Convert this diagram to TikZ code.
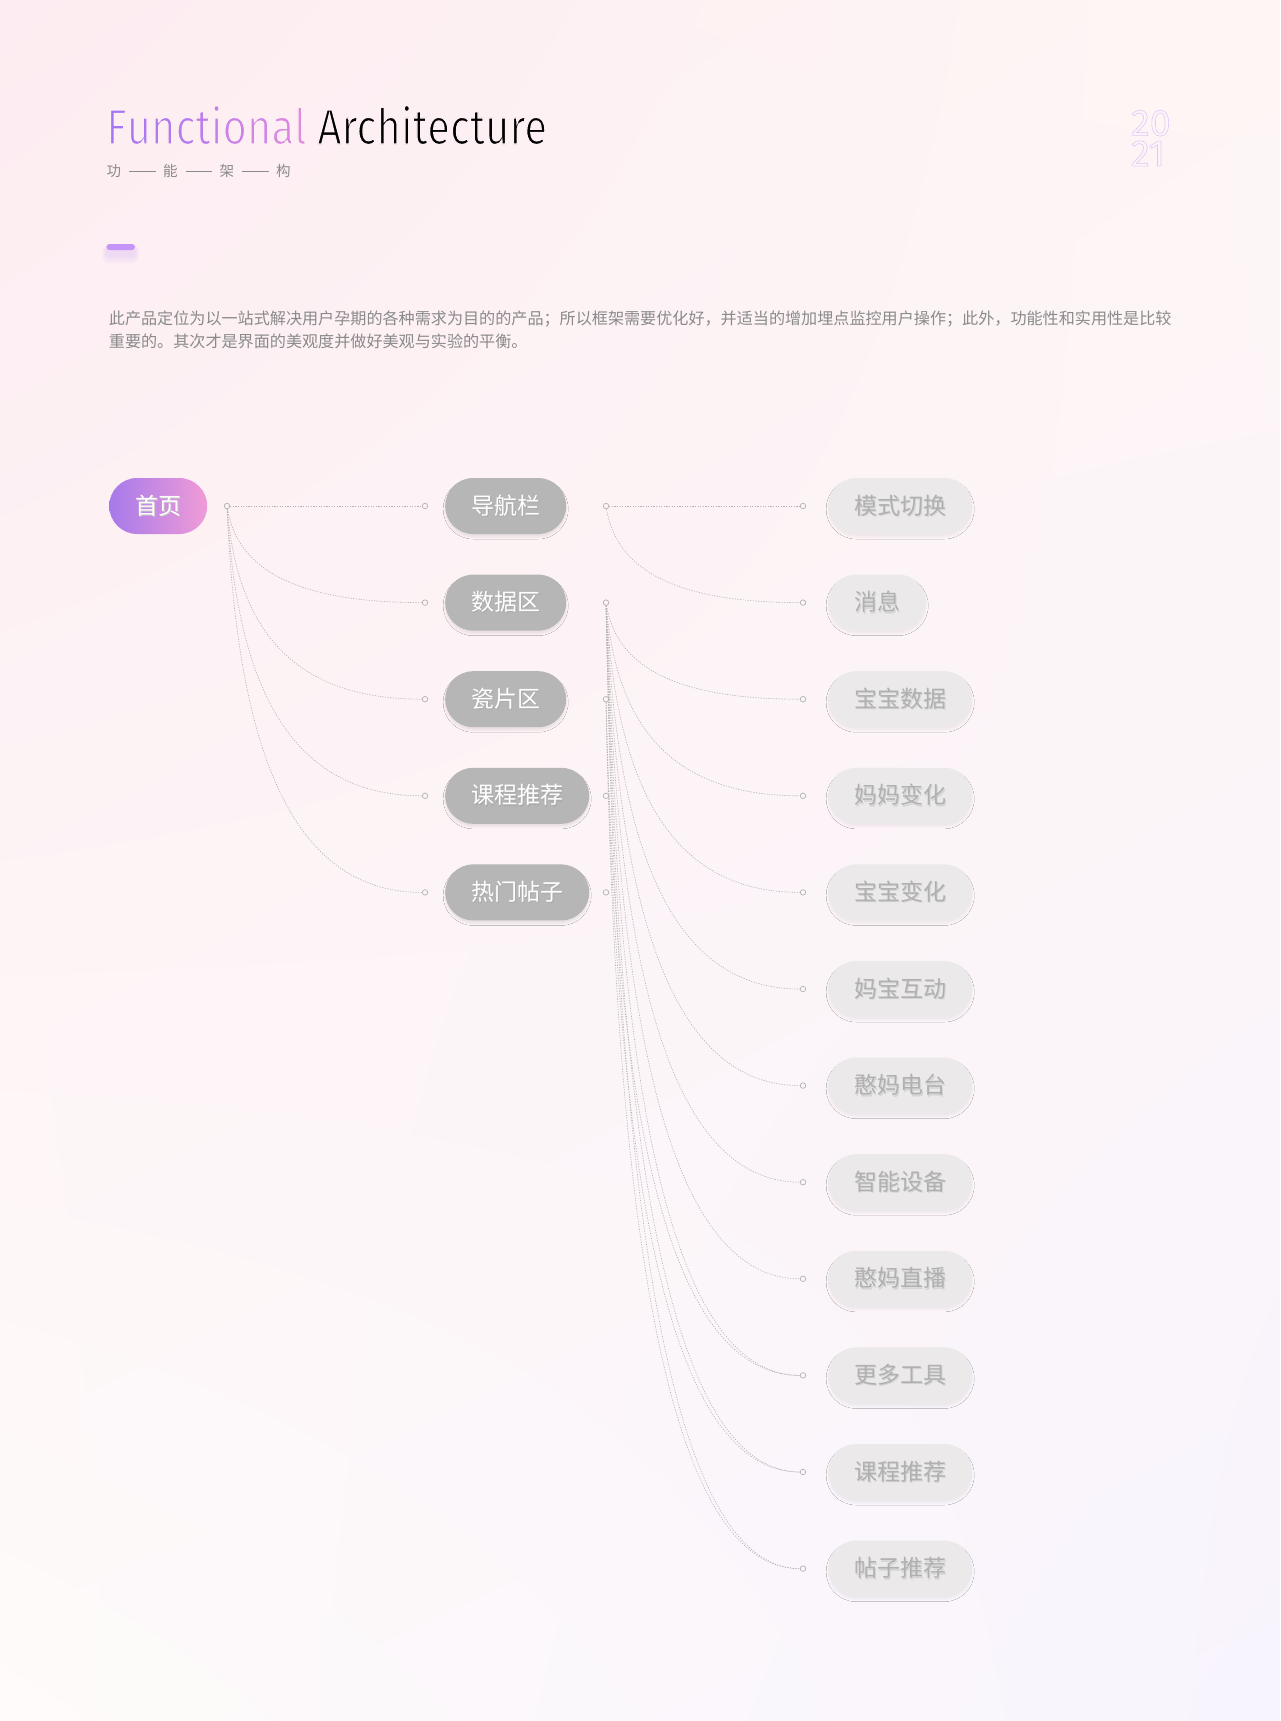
\documentclass[tikz,border=0pt]{standalone}
\usepackage{fontspec}
\setmainfont{Noto Sans CJK SC}
\newfontfamily\thinfont[FakeStretch=0.845]{Fira Sans}
\newfontfamily\digitfont{Fira Sans}
\usetikzlibrary{calc,shadings,shadows.blur}

\definecolor{bgtl}{RGB}{253,236,241}
\definecolor{bgtr}{RGB}{254,246,245}
\definecolor{bgbl}{RGB}{254,251,250}
\definecolor{bgbr}{RGB}{248,244,253}
\definecolor{lilac}{RGB}{166,122,234}
\definecolor{rosy}{RGB}{240,155,215}
\definecolor{fa}{RGB}{165,118,244}
\definecolor{fb}{RGB}{226,138,222}
\definecolor{dashpurple}{RGB}{196,148,248}
\definecolor{digitpurple}{RGB}{222,200,250}
\definecolor{midgray}{RGB}{182,182,182}
\definecolor{palegray}{RGB}{235,233,233}
\definecolor{leafgray}{RGB}{176,176,176}
\definecolor{linkgray}{RGB}{178,178,178}
\definecolor{txtgray}{RGB}{138,138,138}

% text with a soft offset shadow
\newcommand{\shtext}[2]{\makebox[0pt][l]{\kern1pt\raisebox{-1.3pt}{\textcolor{#2}{#1}}}#1}
\newcommand{\outlined}[1]{\special{pdf:literal direct 1 Tr 0.6 w}#1\special{pdf:literal direct 0 Tr}}
% glyphs eaten at the edge by a background stroke
\newcommand{\thinned}[1]{\special{pdf:literal direct 2 Tr 1.3 w 0.992 0.937 0.953 RG}#1\special{pdf:literal direct 0 Tr}}
\newcommand{\gl}[2]{\textcolor{#1}{\thinned{#2}}}
% dotted branch, steep start and flat end
\newcommand{\bend}[2]{\draw[link] let \p1=(#1), \p2=(#2) in (#1) .. controls ({\x1+0.05*(\x2-\x1)},{\y1+0.6*(\y2-\y1)}) and ({\x2-0.7*(\x2-\x1)},\y2) .. (#2);}

\begin{document}
\begin{tikzpicture}[x=1pt, y=-1pt,
    box/.style={rounded corners=28pt, minimum height=56pt, inner xsep=26pt, inner ysep=0pt,
        font=\fontsize{23}{23}\selectfont, anchor=west},
    home/.style={box, left color=lilac, right color=rosy, text=white},
    mid/.style={box, fill=midgray, text=white,
        blur shadow={shadow xshift=0pt, shadow yshift=-3pt, shadow opacity=8, shadow blur radius=2pt}},
    leaf/.style={box, fill=palegray, text=leafgray,
        blur shadow={shadow xshift=0pt, shadow yshift=-3pt, shadow opacity=5, shadow blur radius=2pt}},
    dot/.style={circle, draw=linkgray, inner sep=0pt, minimum size=5.5pt, line width=0.7pt},
    link/.style={draw=linkgray, line width=0.6pt, dash pattern=on 1.2pt off 1.4pt}]

\useasboundingbox (0,0) rectangle (1280,1721);
\shade[upper left=bgtl, upper right=bgtr, lower left=bgbl, lower right=bgbr] (0,0) rectangle (1280,1721);

% heading
\node[anchor=base west, inner sep=0pt, font=\thinfont\fontsize{49.5}{49.5}\selectfont] (title) at (106,144)
    {\gl{fa}{F}\gl{fa!90!fb}{u}\gl{fa!80!fb}{n}\gl{fa!70!fb}{c}\gl{fa!60!fb}{t}\gl{fa!50!fb}{i}\gl{fa!38!fb}{o}\gl{fa!26!fb}{n}\gl{fa!14!fb}{a}\gl{fb}{l} \thinned{Architecture}};
\node[anchor=base west, inner sep=0pt, text=txtgray, font=\fontsize{14.5}{14.5}\selectfont] (subtitle) at (106.5,176.5)
    {功\hspace{8pt}\rule[0.33em]{26.5pt}{0.9pt}\hspace{7.5pt}能\hspace{8pt}\rule[0.33em]{26.5pt}{0.9pt}\hspace{7.5pt}架\hspace{8pt}\rule[0.33em]{26.5pt}{0.9pt}\hspace{7.5pt}构};
\node[anchor=north west, inner sep=0pt, align=left, text=digitpurple, font=\digitfont\fontsize{37.5}{30.5}\selectfont] (year) at (1131,110)
    {\outlined{20}\\\outlined{21}};
% small bar with its glow
\foreach \g in {1,...,4}
    \fill[dashpurple, opacity=0.06, rounded corners=6pt] ({106.5-\g},{247-\g/2}) rectangle ({135+\g},{255+2*\g});
\fill[dashpurple, rounded corners=3pt] (106.5,244) rectangle (135,250);

% intro text
\node[anchor=base west, inner sep=0pt, text=txtgray, font=\fontsize{16.1}{16.1}\selectfont] (intro1) at (108.7,324)
    {此产品定位为以一站式解决用户孕期的各种需求为目的的产品；所以框架需要优化好，并适当的增加埋点监控用户操作；此外，功能性和实用性是比较};
\node[anchor=base west, inner sep=0pt, text=txtgray, font=\fontsize{16.1}{16.1}\selectfont] (intro2) at (108.7,347)
    {重要的。其次才是界面的美观度并做好美观与实验的平衡。};

% first level
\node[home] (home) at (109,506) {\shtext{首页}{black!22}};
\node[dot] (home-o) at (227,506) {};

% second level
\foreach \name/\txt [count=\i] in {nav/导航栏, data/数据区, tile/瓷片区, course/课程推荐, post/热门帖子}{
    \node[mid] (\name) at (445,{506+96.6*(\i-1)}) {\shtext{\txt}{black!33}};
    \node[dot] (\name-i) at (425,{506+96.6*(\i-1)}) {};
    \node[dot] (\name-o) at (606,{506+96.6*(\i-1)}) {};
}

% third level
\foreach \txt [count=\i] in {模式切换,消息,宝宝数据,妈妈变化,宝宝变化,妈宝互动,憨妈电台,智能设备,憨妈直播,更多工具,课程推荐,帖子推荐}{
    \node[leaf] (leaf\i) at (828,{506+96.6*(\i-1)}) {\shtext{\txt}{black!17}};
    \node[dot] (leaf\i-i) at (803,{506+96.6*(\i-1)}) {};
}

% branches
\draw[link] (home-o) -- (nav-i);
\foreach \name in {data,tile,course,post}
    \bend{home-o}{\name-i};
\draw[link] (nav-o) -- (leaf1-i);
\bend{nav-o}{leaf2-i};
\foreach \i in {3,...,12}
    \bend{data-o}{leaf\i-i};
\foreach \i in {10,11,12}
    \bend{tile-o}{leaf\i-i};
\end{tikzpicture}
\end{document}
